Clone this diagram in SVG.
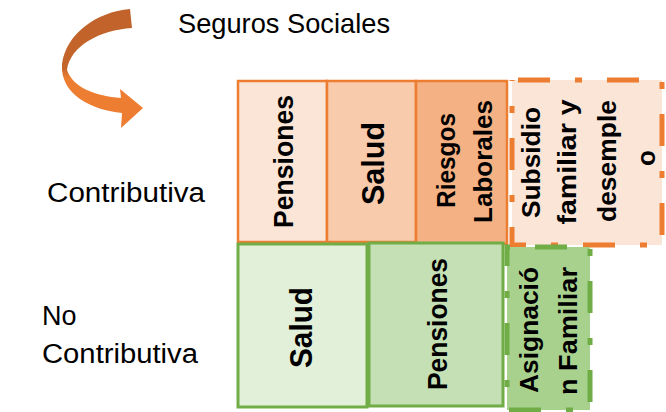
<svg xmlns="http://www.w3.org/2000/svg" width="666" height="412" viewBox="0 0 666 412">
<defs>
<style>
.lbl{font-family:"Liberation Sans",Arial,sans-serif;fill:#000;}
.v{font-family:"Liberation Sans",Arial,sans-serif;font-weight:bold;fill:#000;text-anchor:middle;}
.ob{stroke:#ED7D31;stroke-width:2.5;}
.gb{stroke:#70AD47;stroke-width:3;}
</style>
<linearGradient id="arrowGrad" x1="0" y1="0" x2="0" y2="1">
<stop offset="0" stop-color="#C0622A"/>
<stop offset="0.5" stop-color="#C4652B"/>
<stop offset="0.58" stop-color="#ED7D31"/>
<stop offset="1" stop-color="#ED7D31"/>
</linearGradient>
</defs>
<rect width="666" height="412" fill="#fff"/>

<g id="title">
<text class="lbl" x="178" y="33" font-size="28" textLength="212" lengthAdjust="spacingAndGlyphs">Seguros Sociales</text>
</g>
<g id="arrow">
<path d="M130,9 C96,12 66,34 62,64 C60,95 92,110 122,113 L121,128 L143,108 L120,89 L121,98 C96,96 73,88 67,70 C70,46 100,30 132,28 Z" fill="url(#arrowGrad)"/>
</g>
<g id="label-contributiva">
<text class="lbl" x="47" y="202" font-size="27" textLength="158" lengthAdjust="spacingAndGlyphs">Contributiva</text>
</g>
<g id="label-nocontributiva">
<text class="lbl" x="42" y="325" font-size="27">No</text>
<text class="lbl" x="42" y="363" font-size="27" textLength="156" lengthAdjust="spacingAndGlyphs">Contributiva</text>
</g>

<g id="c-pensiones">
<rect class="ob" x="238" y="81" width="89" height="161" fill="#FBE5D6"/>
<text class="v" transform="translate(293,161.5) rotate(-90)" font-size="27" textLength="133" lengthAdjust="spacingAndGlyphs">Pensiones</text>
</g>
<g id="c-salud">
<rect class="ob" x="327" y="81" width="89" height="161" fill="#F8CBAD"/>
<text class="v" transform="translate(384,163.5) rotate(-90)" font-size="32" textLength="83" lengthAdjust="spacingAndGlyphs">Salud</text>
</g>
<g id="c-riesgos">
<rect class="ob" x="416" y="81" width="91" height="163" fill="#F4B183" stroke-width="3"/>
<text class="v" transform="translate(455,160.5) rotate(-90)" font-size="26" textLength="95" lengthAdjust="spacingAndGlyphs">Riesgos</text>
<text class="v" transform="translate(492,161.5) rotate(-90)" font-size="26" textLength="123" lengthAdjust="spacingAndGlyphs">Laborales</text>
</g>
<g id="c-subsidio">
<rect x="512" y="80" width="150" height="165" fill="#FBE5D6" stroke="#ED7D31" stroke-width="5" stroke-dasharray="32 25 7 25" stroke-dashoffset="-6"/>
<text class="v" transform="translate(540,162.5) rotate(-90)" font-size="26" textLength="111" lengthAdjust="spacingAndGlyphs">Subsidio</text>
<text class="v" transform="translate(576,162) rotate(-90)" font-size="26" textLength="125" lengthAdjust="spacingAndGlyphs">familiar y</text>
<text class="v" transform="translate(616,161) rotate(-90)" font-size="26" textLength="122" lengthAdjust="spacingAndGlyphs">desemple</text>
<text class="v" transform="translate(655,158) rotate(-90)" font-size="26">o</text>
</g>

<g id="nc-salud">
<rect class="gb" x="238" y="244" width="129" height="163" fill="#E2F0D9"/>
<text class="v" transform="translate(312,327.5) rotate(-90)" font-size="31" textLength="81" lengthAdjust="spacingAndGlyphs">Salud</text>
</g>
<g id="nc-pensiones">
<rect class="gb" x="369" y="243" width="134" height="163" fill="#C5E0B4"/>
<text class="v" transform="translate(447,324) rotate(-90)" font-size="27" textLength="132" lengthAdjust="spacingAndGlyphs">Pensiones</text>
</g>
<g id="nc-asignacion">
<rect x="507" y="247" width="83" height="163" fill="#A9D18E" stroke="#70AD47" stroke-width="5" stroke-dasharray="32 25 7 25" stroke-dashoffset="-28"/>
<text class="v" transform="translate(538,330) rotate(-90)" font-size="26" textLength="126" lengthAdjust="spacingAndGlyphs">Asignació</text>
<text class="v" transform="translate(577,331) rotate(-90)" font-size="26" textLength="128" lengthAdjust="spacingAndGlyphs">n Familiar</text>
</g>
<g id="connectors"></g>
</svg>
